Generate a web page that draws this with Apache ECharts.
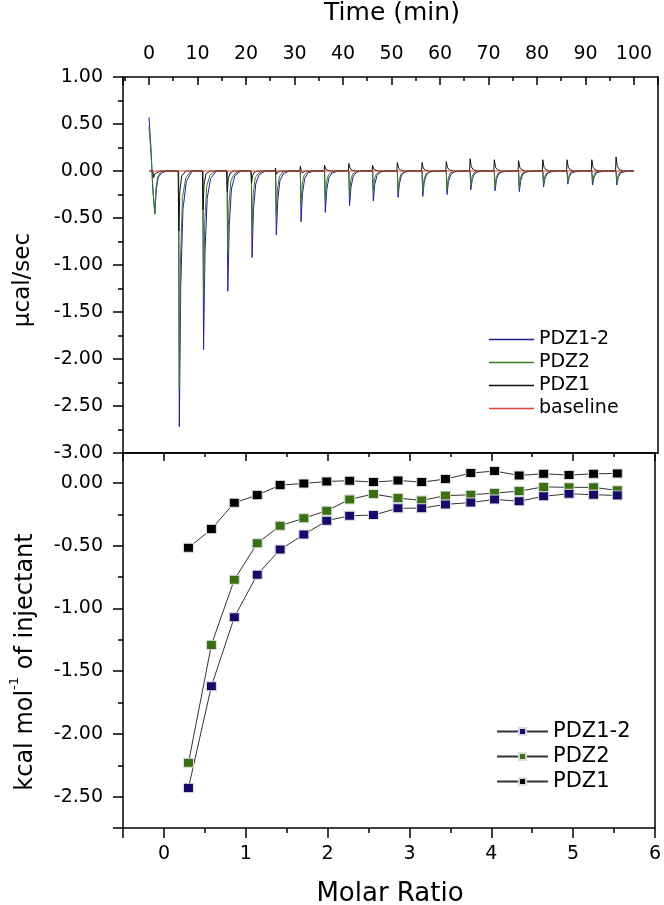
<!DOCTYPE html>
<html><head><meta charset="utf-8">
<script src="https://cdn.jsdelivr.net/npm/echarts@6/dist/echarts.min.js"></script>
<style>html,body{margin:0;padding:0;background:#fff}#c{width:664px;height:905px}</style>
</head><body><div id="c"></div>
<script>
// ---- Top panel: raw ITC thermograms, [time (min), µcal/sec] ----
const pdz12Trace = [
[0,0.57],[0.4,0.25],[0.8,-0.2],[1.2,-0.45],[1.5,-0.2],[1.9,-0.07],[2.6,-0.02],[3.6,0],
[6.1,0],[6.25,-2.72],[6.55,-1.22],[7.0,-0.41],[7.7,-0.11],[8.9,0],
[11.1,0],[11.25,-1.90],[11.55,-0.86],[12.0,-0.29],[12.7,-0.08],[13.9,0],
[16.1,0],[16.25,-1.28],[16.55,-0.58],[17.0,-0.19],[17.7,-0.05],[18.9,0],
[21.1,0],[21.25,-0.92],[21.55,-0.41],[22.0,-0.14],[22.7,-0.04],[23.9,0],
[26.1,0],[26.25,-0.68],[26.55,-0.31],[27.0,-0.10],[27.7,-0.03],[28.9,0],
[31.2,0],[31.35,-0.54],[31.65,-0.24],[32.1,-0.08],[32.8,-0.02],[34.0,0],
[36.2,0],[36.35,-0.44],[36.65,-0.20],[37.1,-0.07],[37.8,-0.02],[39.0,0],
[41.2,0],[41.35,-0.37],[41.65,-0.17],[42.1,-0.06],[42.8,-0.01],[44.0,0],
[46.1,0],[46.25,-0.32],[46.55,-0.14],[47.0,-0.05],[47.7,-0.01],[48.9,0],
[51.2,0],[51.35,-0.28],[51.65,-0.13],[52.1,-0.04],[52.8,-0.01],[54.0,0],
[56.3,0],[56.45,-0.27],[56.75,-0.12],[57.2,-0.04],[57.9,-0.01],[59.1,0],
[61.3,0],[61.45,-0.25],[61.75,-0.11],[62.2,-0.04],[62.9,-0.01],[64.1,0],
[66.2,0],[66.35,-0.20],[66.65,-0.09],[67.1,-0.03],[67.8,-0.01],[69.0,0],
[71.2,0],[71.35,-0.21],[71.65,-0.09],[72.1,-0.03],[72.8,-0.01],[74.0,0],
[76.2,0],[76.35,-0.22],[76.65,-0.10],[77.1,-0.03],[77.8,-0.01],[79.0,0],
[81.2,0],[81.35,-0.17],[81.65,-0.08],[82.1,-0.03],[82.8,-0.01],[84.0,0],
[86.2,0],[86.35,-0.14],[86.65,-0.06],[87.1,-0.02],[87.8,-0.01],[89.0,0],
[91.3,0],[91.45,-0.15],[91.75,-0.07],[92.2,-0.02],[92.9,-0.01],[94.1,0],
[96.3,0],[96.45,-0.15],[96.75,-0.07],[97.2,-0.02],[97.9,-0.01],[99.1,0],[100,0]
];
const pdz2Trace = [
[0,0.47],[0.4,0.2],[0.8,-0.2],[1.2,-0.46],[1.45,-0.18],[1.8,-0.06],[2.4,-0.01],[3.3,0],
[6.1,0],[6.25,-2.30],[6.5,-0.92],[6.9,-0.28],[7.6,-0.07],[8.7,0],
[11.1,0],[11.25,-1.35],[11.5,-0.54],[11.9,-0.16],[12.6,-0.04],[13.7,0],
[16.1,0],[16.25,-0.87],[16.5,-0.35],[16.9,-0.10],[17.6,-0.03],[18.7,0],
[21.1,0],[21.25,-0.60],[21.5,-0.24],[21.9,-0.07],[22.6,-0.02],[23.7,0],
[26.1,0],[26.25,-0.46],[26.5,-0.18],[26.9,-0.06],[27.6,-0.01],[28.7,0],
[31.2,0],[31.35,-0.35],[31.6,-0.14],[32.0,-0.04],[32.7,-0.01],[33.8,0],
[36.2,0],[36.35,-0.30],[36.6,-0.12],[37.0,-0.04],[37.7,-0.01],[38.8,0],
[41.2,0],[41.35,-0.25],[41.6,-0.10],[42.0,-0.03],[42.7,-0.01],[43.8,0],
[46.1,0],[46.25,-0.21],[46.5,-0.08],[46.9,-0.03],[47.6,-0.01],[48.7,0],
[51.2,0],[51.35,-0.23],[51.6,-0.09],[52.0,-0.03],[52.7,-0.01],[53.8,0],
[56.3,0],[56.45,-0.22],[56.7,-0.09],[57.1,-0.03],[57.8,-0.01],[58.9,0],
[61.3,0],[61.45,-0.20],[61.7,-0.08],[62.1,-0.02],[62.8,-0.01],[63.9,0],
[66.2,0],[66.35,-0.16],[66.6,-0.06],[67.0,-0.02],[67.7,0],
[71.2,0],[71.35,-0.17],[71.6,-0.07],[72.0,-0.02],[72.7,-0.01],[73.8,0],
[76.2,0],[76.35,-0.18],[76.6,-0.07],[77.0,-0.02],[77.7,-0.01],[78.8,0],
[81.2,0],[81.35,-0.14],[81.6,-0.06],[82.0,-0.02],[82.7,0],
[86.2,0],[86.35,-0.12],[86.6,-0.05],[87.0,-0.01],[87.7,0],
[91.3,0],[91.45,-0.12],[91.7,-0.05],[92.1,-0.01],[92.8,0],
[96.3,0],[96.45,-0.12],[96.7,-0.05],[97.1,-0.01],[97.8,0],[100,0]
];
const pdz1Trace = [
[0,0],[0.8,0],[0.95,-0.07],[1.2,-0.03],[1.6,-0.01],[2.3,0],
[6.0,0],[6.15,-0.64],[6.35,-0.22],[6.75,-0.05],[7.6,0],
[11.0,0],[11.15,-0.41],[11.35,-0.14],[11.75,-0.03],[12.6,0],
[16.0,0],[16.15,-0.22],[16.35,-0.08],[16.75,-0.02],[17.6,0],
[21.0,0],[21.15,-0.13],[21.35,-0.05],[21.75,-0.01],[22.6,0],
[26.0,0],[26.1,0.03],[26.25,-0.035],[26.5,-0.01],[27.2,0],
[31.1,0],[31.2,0.05],[31.4,0.01],[31.6,-0.02],[32.3,0],
[36.1,0],[36.2,0.06],[36.45,0.02],[36.9,0.005],[37.7,0],
[41.1,0],[41.2,0.08],[41.45,0.03],[41.9,0.008],[42.7,0],
[46.0,0],[46.1,0.06],[46.35,0.02],[46.8,0.006],[47.6,0],
[51.1,0],[51.2,0.09],[51.45,0.03],[51.9,0.009],[52.7,0],
[56.2,0],[56.3,0.09],[56.55,0.03],[57.0,0.009],[57.8,0],
[61.2,0],[61.3,0.10],[61.55,0.035],[62.0,0.01],[62.8,0],
[66.1,0],[66.2,0.13],[66.45,0.045],[66.9,0.013],[67.7,0],
[71.1,0],[71.2,0.12],[71.45,0.04],[71.9,0.012],[72.7,0],
[76.1,0],[76.2,0.11],[76.45,0.04],[76.9,0.011],[77.7,0],
[81.1,0],[81.2,0.12],[81.45,0.04],[81.9,0.012],[82.7,0],
[86.1,0],[86.2,0.12],[86.45,0.04],[86.9,0.012],[87.7,0],
[91.2,0],[91.3,0.12],[91.55,0.04],[92.0,0.012],[92.8,0],
[96.2,0],[96.3,0.15],[96.55,0.05],[97.0,0.015],[97.8,0],[100,0]
];
const baselineTrace = [[0,0],[100,0]];

// ---- Bottom panel: integrated heats ----
const molarRatio = [0.30,0.58,0.86,1.14,1.42,1.71,1.99,2.27,2.56,2.86,3.15,3.44,3.75,4.04,4.34,4.64,4.95,5.25,5.54];
const heatPDZ12 = [-2.43,-1.62,-1.07,-0.73,-0.53,-0.41,-0.30,-0.26,-0.255,-0.20,-0.20,-0.17,-0.155,-0.13,-0.145,-0.105,-0.085,-0.093,-0.098];
const heatPDZ2  = [-2.23,-1.29,-0.77,-0.48,-0.34,-0.28,-0.22,-0.13,-0.087,-0.12,-0.138,-0.10,-0.093,-0.08,-0.064,-0.03,-0.034,-0.034,-0.058];
const heatPDZ1  = [-0.516,-0.367,-0.157,-0.096,-0.016,-0.003,0.013,0.019,0.008,0.021,0.008,0.032,0.08,0.096,0.061,0.074,0.064,0.074,0.077];

const F = 'DejaVu Sans';
const AX = {color:'#000', width:1.5};
const LINE = {show:true, onZero:false, lineStyle:AX};
const pair = (xs, ys) => xs.map((x,i)=>[x, ys[i]]);

const chart = echarts.init(document.getElementById('c'), null, {renderer:'canvas'});
const timeAxisBase = {type:'value', gridIndex:0, min:-5.36, max:104.95, minInterval:10, maxInterval:10, splitLine:{show:false}};
const ratioAxisBase = {type:'value', gridIndex:1, min:-0.5, max:6, minInterval:1, maxInterval:1, splitLine:{show:false}};

chart.setOption({
  animation:false,
  backgroundColor:'#fff',
  grid:[
    {left:123, top:77, width:535, height:376},
    {left:123, top:453, width:535, height:375}
  ],
  xAxis:[
    Object.assign({}, timeAxisBase, {position:'top',
      axisLine:LINE,
      axisTick:{show:true, inside:true, length:8, lineStyle:AX},
      minorTick:{show:true, splitNumber:2, length:4, lineStyle:AX},
      axisLabel:{show:true, margin:13, color:'#000', fontFamily:F, fontSize:19, showMinLabel:false, showMaxLabel:false}
    }),
    Object.assign({}, timeAxisBase, {position:'bottom',
      axisLine:LINE, axisTick:{show:false}, axisLabel:{show:false}
    }),
    Object.assign({}, ratioAxisBase, {position:'bottom',
      axisLine:LINE,
      axisTick:{show:true, inside:false, length:10, lineStyle:AX},
      minorTick:{show:true, splitNumber:2, length:5, lineStyle:AX},
      axisLabel:{show:true, margin:17, color:'#000', fontFamily:F, fontSize:19, showMinLabel:false}
    }),
    Object.assign({}, ratioAxisBase, {position:'top',
      axisLine:LINE,
      axisTick:{show:true, inside:true, length:8, lineStyle:AX},
      minorTick:{show:true, splitNumber:2, length:4, lineStyle:AX},
      axisLabel:{show:false}
    })
  ],
  yAxis:[
    {type:'value', gridIndex:0, position:'left', min:-3, max:1, interval:0.5, splitLine:{show:false},
      axisLine:LINE,
      axisTick:{show:true, inside:false, length:10, lineStyle:AX},
      minorTick:{show:true, splitNumber:2, length:5, lineStyle:AX},
      axisLabel:{margin:20, color:'#000', fontFamily:F, fontSize:19, formatter:v=>v.toFixed(2)}
    },
    {type:'value', gridIndex:0, position:'right', min:-3, max:1, interval:0.5, splitLine:{show:false},
      axisLine:LINE, axisTick:{show:false}, axisLabel:{show:false}
    },
    {type:'value', gridIndex:1, position:'left', min:-2.75, max:0.24, minInterval:0.5, maxInterval:0.5, splitLine:{show:false},
      axisLine:LINE,
      axisTick:{show:true, inside:false, length:10, lineStyle:AX},
      minorTick:{show:true, splitNumber:2, length:5, lineStyle:AX},
      axisLabel:{margin:20, color:'#000', fontFamily:F, fontSize:19, showMinLabel:false, showMaxLabel:false, formatter:v=>v.toFixed(2)}
    },
    {type:'value', gridIndex:1, position:'right', min:-2.75, max:0.24, minInterval:0.5, maxInterval:0.5, splitLine:{show:false},
      axisLine:LINE, axisTick:{show:false}, axisLabel:{show:false}
    }
  ],
  legend:[
    {orient:'vertical', left:484, top:325, icon:'rect', itemWidth:45, itemHeight:1.5, itemGap:4,
      data:['PDZ1-2','PDZ2','PDZ1','baseline'],
      textStyle:{color:'#000', fontFamily:F, fontSize:19, lineHeight:19}},
    {orient:'vertical', left:491, top:716, itemWidth:51, itemHeight:9, itemGap:4,
      data:['PDZ1-2 heat','PDZ2 heat','PDZ1 heat'],
      formatter:n=>n.replace(' heat',''),
      textStyle:{color:'#000', fontFamily:F, fontSize:21}}
  ],
  graphic:[
    {type:'text', x:392, y:13, style:{text:'Time (min)', fontFamily:F, fontSize:25, fill:'#000', textAlign:'center', textVerticalAlign:'middle'}},
    {type:'text', x:390, y:894, style:{text:'Molar Ratio', fontFamily:F, fontSize:26, fill:'#000', textAlign:'center', textVerticalAlign:'middle'}},
    {type:'text', x:23, y:280, rotation:Math.PI/2, style:{text:'µcal/sec', fontFamily:F, fontSize:23, fill:'#000', textAlign:'center', textVerticalAlign:'middle'}},
    {type:'text', x:23, y:662, rotation:Math.PI/2, style:{
      text:'{a|kcal mol}{s|-1}{a| of injectant}', textAlign:'center', textVerticalAlign:'middle',
      rich:{a:{fontFamily:F, fontSize:24, fill:'#000', lineHeight:30, verticalAlign:'bottom'},
            s:{fontFamily:F, fontSize:13, fill:'#000', lineHeight:30, verticalAlign:'top'}}
    }}
  ],
  series:[
    {name:'PDZ1-2', type:'line', xAxisIndex:0, yAxisIndex:0, data:pdz12Trace, symbol:'none', lineStyle:{color:'#1f1f9e', width:1}, itemStyle:{color:'#1f1f9e'}},
    {name:'PDZ2', type:'line', xAxisIndex:0, yAxisIndex:0, data:pdz2Trace, symbol:'none', lineStyle:{color:'#3d7d22', width:1}, itemStyle:{color:'#3d7d22'}},
    {name:'PDZ1', type:'line', xAxisIndex:0, yAxisIndex:0, data:pdz1Trace, symbol:'none', lineStyle:{color:'#111', width:1}, itemStyle:{color:'#111'}},
    {name:'baseline', type:'line', xAxisIndex:0, yAxisIndex:0, data:baselineTrace, symbol:'none', lineStyle:{color:'#e0443c', width:1.2}, itemStyle:{color:'#e0443c'}},
    {name:'PDZ1 heat', type:'line', xAxisIndex:2, yAxisIndex:2, data:pair(molarRatio, heatPDZ1), symbol:'rect', symbolSize:[10,9],
      lineStyle:{color:'#333', width:1}, itemStyle:{color:'#000', borderColor:'#ddd', borderWidth:1}},
    {name:'PDZ2 heat', type:'line', xAxisIndex:2, yAxisIndex:2, data:pair(molarRatio, heatPDZ2), symbol:'rect', symbolSize:[10,9],
      lineStyle:{color:'#333', width:1}, itemStyle:{color:'#3a6f12', borderColor:'#ddd', borderWidth:1}},
    {name:'PDZ1-2 heat', type:'line', xAxisIndex:2, yAxisIndex:2, data:pair(molarRatio, heatPDZ12), symbol:'rect', symbolSize:[10,9],
      lineStyle:{color:'#333', width:1}, itemStyle:{color:'#150a6a', borderColor:'#ddd', borderWidth:1}}
  ]
});
</script></body></html>
